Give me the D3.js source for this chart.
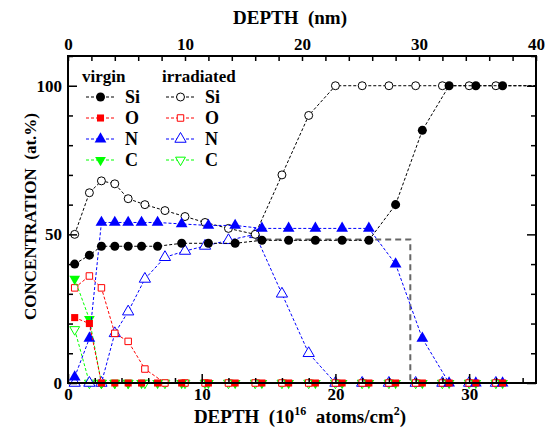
<!DOCTYPE html>
<html>
<head>
<meta charset="utf-8">
<script src="https://cdn.jsdelivr.net/npm/d3@7"></script>
<style>
  body { margin: 0; background: #fff; }
  svg { font-family: "Liberation Serif", "Times New Roman", serif; font-weight: bold; }
  text { white-space: pre; }
</style>
</head>
<body>
<svg width="547" height="428"></svg>
<script>
// depth points (10^16 atoms/cm2)
const virginX = [0.5, 1.6, 2.5, 3.5, 4.5, 5.5, 6.7, 8.5, 10.5, 12.5, 14.5, 16.5, 18.5, 20.5, 22.5, 24.5, 26.5, 28.5, 30.5, 32.5, 36.5];
const virginSi = [40, 43, 46, 46, 46, 46, 46, 47, 47, 47, 48, 48, 48, 48, 48, 60, 85, 100, 100, 100, 100];
const virginO = [22, 20, 0, 0, 0, 0, 0, 0, 0, 0, 0, 0, 0, 0, 0, 0, 0, 0, 0, 0, null];
const virginN = [2, 15, 54, 54, 54, 54, 54, 53.5, 53, 53, 52, 52, 52, 52, 52, 40, 15, 0, 0, 0, null];
const virginC = [35, 21.5, 0, 0, 0, 0, 0, 0, 0, 0, 0, 0, 0, 0, 0, 0, 0, 0, 0, 0, null];

const irrX = [0.5, 1.6, 2.5, 3.5, 4.5, 5.75, 7.25, 8.75, 10.25, 12, 14, 16, 18, 20, 22, 24, 26, 28, 30, 32, 36.5];
const irrSi = [50, 64, 68, 67, 62, 60, 58, 56, 54, 52, 50, 70, 90, 100, 100, 100, 100, 100, 100, 100, 100];
const irrO = [32, 36, 32, 16.7, 14, 4.7, 0, 0, 0, 0, 0, 0, 0, 0, 0, 0, 0, 0, 0, 0, null];
const irrN = [0, 0, 0, 16.7, 24, 35, 42.3, 44.4, 46.1, 48, 50, 30, 10, 0, 0, 0, 0, 0, 0, 0, null];
const irrC = [18, 0, 0, 0, 0, 0, 0, 0, 0, 0, 0, 0, 0, 0, 0, 0, 0, 0, 0, 0, null];

// step profile (dashed grey)
const stepX = [14, 25.6, 25.6];
const stepY = [48.3, 48.3, 0];

const bottomTicks = d3.range(0, 36, 2);
const topTicks = d3.range(0, 41, 2);
const yTicks = d3.range(0, 111, 10);

const svg = d3.select("svg");
const margin = { top: 56, right: 11, bottom: 45, left: 68 };
const width = +svg.attr("width");
const height = +svg.attr("height");

const x = d3.scaleLinear().domain([0, 35]).range([margin.left, width - margin.right]);
const xTop = d3.scaleLinear().domain([0, 40]).range([margin.left, width - margin.right]);
const y = d3.scaleLinear().domain([0, 110]).range([height - margin.bottom, margin.top]);

const green = "#00ff00";
const series = [
  { name: "Si", xs: virginX, ys: virginSi, color: "#000", shape: d3.symbolCircle, size: 64, fill: true, col: 0 },
  { name: "O", xs: virginX, ys: virginO, color: "#ff0000", shape: d3.symbolSquare, size: 50, fill: true, col: 0 },
  { name: "N", xs: virginX, ys: virginN, color: "#0000ff", shape: d3.symbolTriangle, size: 60, fill: true, col: 0 },
  { name: "C", xs: virginX, ys: virginC, color: green, shape: d3.symbolTriangle, size: 50, fill: true, down: true, col: 0 },
  { name: "Si", xs: irrX, ys: irrSi, color: "#000", shape: d3.symbolCircle, size: 50, fill: false, col: 1 },
  { name: "O", xs: irrX, ys: irrO, color: "#ff0000", shape: d3.symbolSquare, size: 42, fill: false, col: 1 },
  { name: "N", xs: irrX, ys: irrN, color: "#0000ff", shape: d3.symbolTriangle, size: 55, fill: false, col: 1 },
  { name: "C", xs: irrX, ys: irrC, color: green, shape: d3.symbolTriangle, size: 42, fill: false, down: true, col: 1 }
];

svg.append("clipPath").attr("id", "clip")
  .append("rect")
  .attr("x", margin.left).attr("y", 0)
  .attr("width", width - margin.left - margin.right).attr("height", height);

const plot = svg.append("g").attr("clip-path", "url(#clip)");

// step line
plot.append("path")
  .datum(stepX.map((v, i) => [v, stepY[i]]))
  .attr("fill", "none")
  .attr("stroke", "#666")
  .attr("stroke-width", 2)
  .attr("stroke-dasharray", "6,4")
  .attr("d", d3.line().x(d => x(d[0])).y(d => y(d[1])));

const line = d3.line()
  .defined(d => d[1] != null)
  .x(d => x(d[0]))
  .y(d => y(d[1]));

const markerPath = s => d3.symbol().type(s.shape).size(s.size)();
const markerTransform = (s, px, py) => `translate(${px},${py})` + (s.down ? " rotate(180)" : "");

// draw in reverse so virgin markers end up on top
series.slice().reverse().forEach(s => {
  const pts = s.xs.map((v, i) => [v, s.ys[i]]);
  plot.append("path")
    .datum(pts)
    .attr("fill", "none")
    .attr("stroke", s.color)
    .attr("stroke-width", 1)
    .attr("stroke-dasharray", "3,2")
    .attr("d", line);

  plot.selectAll(null)
    .data(pts.filter(d => d[1] != null))
    .enter().append("path")
    .attr("d", markerPath(s))
    .attr("transform", d => markerTransform(s, x(d[0]), y(d[1])))
    .attr("fill", s.fill ? s.color : "#fff")
    .attr("stroke", s.color)
    .attr("stroke-width", s.fill ? 0 : 1);
});

// frame
svg.append("rect")
  .attr("x", margin.left).attr("y", margin.top)
  .attr("width", width - margin.left - margin.right)
  .attr("height", height - margin.top - margin.bottom)
  .attr("fill", "none").attr("stroke", "#000").attr("stroke-width", 2);

// bottom axis (ticks inward)
const xAxis = svg.append("g")
  .attr("transform", `translate(0,${height - margin.bottom})`)
  .call(d3.axisBottom(x).tickValues(bottomTicks)
    .tickSizeInner(-5).tickSizeOuter(0).tickPadding(5)
    .tickFormat(d => d % 10 === 0 ? d : ""));
xAxis.selectAll(".tick line").filter(d => d % 10 === 0).attr("y2", -9);

// top axis
svg.append("g")
  .attr("transform", `translate(0,${margin.top})`)
  .call(d3.axisTop(xTop).tickValues(topTicks)
    .tickSizeInner(-5).tickSizeOuter(0).tickPadding(6)
    .tickFormat(d => d % 10 === 0 ? d : ""));

// left axis
const yAxis = svg.append("g")
  .attr("transform", `translate(${margin.left},0)`)
  .call(d3.axisLeft(y).tickValues(yTicks)
    .tickSizeInner(-5).tickSizeOuter(0).tickPadding(6)
    .tickFormat(d => d % 50 === 0 ? d : ""));
yAxis.selectAll(".tick line").filter(d => d % 50 === 0).attr("x2", 9);

// right axis
const yRight = svg.append("g")
  .attr("transform", `translate(${width - margin.right},0)`)
  .call(d3.axisRight(y).tickValues(yTicks)
    .tickSizeInner(-5).tickSizeOuter(0).tickFormat(""));
yRight.selectAll(".tick line").filter(d => d % 50 === 0).attr("x2", -9);

svg.selectAll(".domain").remove();
svg.selectAll(".tick text")
  .attr("font-family", "Liberation Serif")
  .attr("font-weight", "bold")
  .attr("font-size", 17)
  .attr("fill", "#000");
svg.selectAll(".tick line").attr("stroke", "#000").attr("stroke-width", 1.5);

// axis titles
svg.append("text")
  .attr("x", 290).attr("y", 24)
  .attr("text-anchor", "middle").attr("font-size", 19)
  .text("DEPTH  (nm)");

const bt = svg.append("text")
  .attr("x", (margin.left + width - margin.right) / 2 - 2).attr("y", 423)
  .attr("text-anchor", "middle").attr("font-size", 19);
bt.append("tspan").text("DEPTH  (10");
bt.append("tspan").attr("dy", -8).attr("font-size", 12).text("16");
bt.append("tspan").attr("dy", 8).text("  atoms/cm");
bt.append("tspan").attr("dy", -8).attr("font-size", 12).text("2");
bt.append("tspan").attr("dy", 8).text(")");

svg.append("text")
  .attr("transform", `translate(36,${(margin.top + height - margin.bottom) / 2 - 3}) rotate(-90)`)
  .attr("text-anchor", "middle").attr("font-size", 17)
  .text("CONCENTRATION  (at.%)");

// legend
const legend = svg.append("g");
const colX = [86, 166];
legend.append("text").attr("x", 82).attr("y", 82).attr("font-size", 17).text("virgin");
legend.append("text").attr("x", 162).attr("y", 82).attr("font-size", 17).text("irradiated");
series.forEach((s, i) => {
  const row = i % 4;
  const ly = 97 + row * 21;
  const lx = colX[s.col];
  legend.append("line")
    .attr("x1", lx).attr("x2", lx + 29).attr("y1", ly).attr("y2", ly)
    .attr("stroke", s.color).attr("stroke-dasharray", "3,2");
  legend.append("path")
    .attr("d", markerPath(s))
    .attr("transform", markerTransform(s, lx + 14.5, ly))
    .attr("fill", s.fill ? s.color : "#fff")
    .attr("stroke", s.color)
    .attr("stroke-width", s.fill ? 0 : 1);
  legend.append("text")
    .attr("x", lx + 39).attr("y", ly + 6)
    .attr("font-size", 18)
    .text(s.name);
});
</script>
</body>
</html>
